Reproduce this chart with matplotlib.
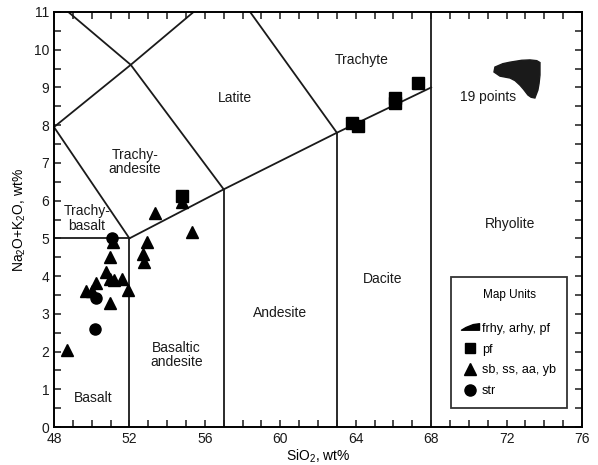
import numpy as np
import matplotlib
matplotlib.use('Agg')
import matplotlib.pyplot as plt
from matplotlib.path import Path
from matplotlib.ticker import MultipleLocator

plt.rcParams['font.family'] = ['Liberation Sans', 'DejaVu Sans']
plt.rcParams['mathtext.fontset'] = 'custom'
plt.rcParams['mathtext.rm'] = 'Liberation Sans'
plt.rcParams['mathtext.it'] = 'Liberation Sans:italic'

# field boundaries (SiO2, Na2O+K2O)
bound_basalt = ([52, 52], [0, 5])
bound_trachybasalt = ([48, 52], [5, 5])
bound_andesite = ([57, 57], [0, 6.3])
bound_dacite = ([63, 63], [0, 7.8])
bound_rhyolite = ([68, 68], [0, 11])
bound_alkali = ([52, 57, 63, 68], [5, 6.3, 7.8, 9.0])
bound_tb_ta = ([48, 52], [7.95, 5])
bound_upper1 = ([48, 52.07, 55.4], [7.95, 9.6, 11])
bound_upper2 = ([57, 52.07, 48.76], [6.3, 9.6, 11])
bound_upper3 = ([63, 58.4], [7.8, 11])

# samples
tri_x = [48.7, 49.7, 50.0, 50.25, 50.75, 50.95, 51.2, 51.6, 51.9, 50.95, 51.15,
         50.95, 52.95, 52.72, 52.75, 53.35, 55.3, 54.77]
tri_y = [2.05, 3.6, 3.6, 3.82, 4.12, 3.92, 3.9, 3.92, 3.62, 4.5, 4.9,
         3.3, 4.91, 4.58, 4.38, 5.68, 5.17, 5.97]
sq_x = [54.77, 63.78, 64.13, 66.08, 66.08, 67.32]
sq_y = [6.12, 8.05, 7.99, 8.71, 8.58, 9.13]
circ_x = [51.05, 50.25, 50.2]
circ_y = [5.0, 3.42, 2.6]

# outline of the 19-point rhyolite cluster
blob_x = [71.38, 71.8, 72.18, 72.8, 73.24, 73.6, 73.77, 73.77, 73.72, 73.66, 73.5,
          73.3, 73.13, 72.9, 72.71, 72.45, 72.18, 71.65, 71.33]
blob_y = [9.54, 9.63, 9.67, 9.72, 9.73, 9.71, 9.66, 9.33, 9.1, 8.93, 8.72,
          8.74, 8.80, 8.95, 9.06, 9.18, 9.25, 9.30, 9.41]

fields = [('Trachyte', 64.3, 9.73), ('Latite', 57.6, 8.73),
          ('Trachy-\nandesite', 52.3, 7.03), ('Trachy-\nbasalt', 49.75, 5.53),
          ('Basalt', 50.1, 0.76), ('Basaltic\nandesite', 54.5, 1.91),
          ('Andesite', 60.0, 3.01), ('Dacite', 65.45, 3.92),
          ('Rhyolite', 72.2, 5.38), ('19 points', 71.0, 8.75)]

fig = plt.figure(figsize=(5.98, 4.65), dpi=100)
ax = fig.add_axes([0.0903, 0.0817, 0.883, 0.8925])

for bx, by in [bound_basalt, bound_trachybasalt, bound_andesite, bound_dacite,
               bound_rhyolite, bound_alkali, bound_tb_ta, bound_upper1,
               bound_upper2, bound_upper3]:
    ax.plot(bx, by, color='#1a1a1a', lw=1.3, solid_joinstyle='miter')

ax.fill(blob_x, blob_y, color='#1a1a1a', lw=1)

ax.plot(tri_x, tri_y, '^', color='black', ms=9, ls='none')
ax.plot(sq_x, sq_y, 's', color='black', ms=8, ls='none')
ax.plot(circ_x, circ_y, 'o', color='black', ms=8, ls='none')

for name, fx, fy in fields:
    ax.text(fx, fy, name, ha='center', va='center', fontsize=10,
            linespacing=1.05, color='#1a1a1a')

# legend
wedge = Path([(-1, -0.3), (-0.5, 0.0), (0.3, 0.32), (1, 0.42), (1, -0.3), (-1, -0.3)],
             [Path.MOVETO] + [Path.LINETO] * 4 + [Path.CLOSEPOLY])
h1, = ax.plot([], [], marker=wedge, color='black', ms=13, ls='none')
h2, = ax.plot([], [], 's', color='black', ms=7, ls='none')
h3, = ax.plot([], [], '^', color='black', ms=9, ls='none')
h4, = ax.plot([], [], 'o', color='black', ms=8, ls='none')
leg = ax.legend([h1, h2, h3, h4], ['frhy, arhy, pf', 'pf', 'sb, ss, aa, yb', 'str'],
                title='Map Units\n', title_fontsize=8.5, fontsize=9,
                loc='lower left', bbox_to_anchor=(0.752, 0.045),
                frameon=True, fancybox=False, edgecolor='black',
                handlelength=1.3, handletextpad=0.25, labelspacing=0.7,
                borderpad=0.9, borderaxespad=0)
leg.get_frame().set_linewidth(1.3)
leg.get_title().set_linespacing(1.15)

ax.set_xlim(48, 76)
ax.set_ylim(0, 11)
ax.xaxis.set_major_locator(MultipleLocator(4))
ax.xaxis.set_minor_locator(MultipleLocator(1))
ax.yaxis.set_major_locator(MultipleLocator(1))
ax.yaxis.set_minor_locator(MultipleLocator(0.5))
ax.tick_params(which='both', direction='in', top=True, right=True, width=1.1,
               labelsize=10, colors='#1a1a1a')
ax.tick_params(which='major', length=5)
ax.tick_params(which='minor', length=5)
for s in ax.spines.values():
    s.set_linewidth(1.4)

ax.set_xlabel('SiO$_2$, wt%', fontsize=10, labelpad=1)
ax.set_ylabel('Na$_2$O+K$_2$O, wt%', fontsize=10, labelpad=4)

fig.savefig('out.png', dpi=100)
